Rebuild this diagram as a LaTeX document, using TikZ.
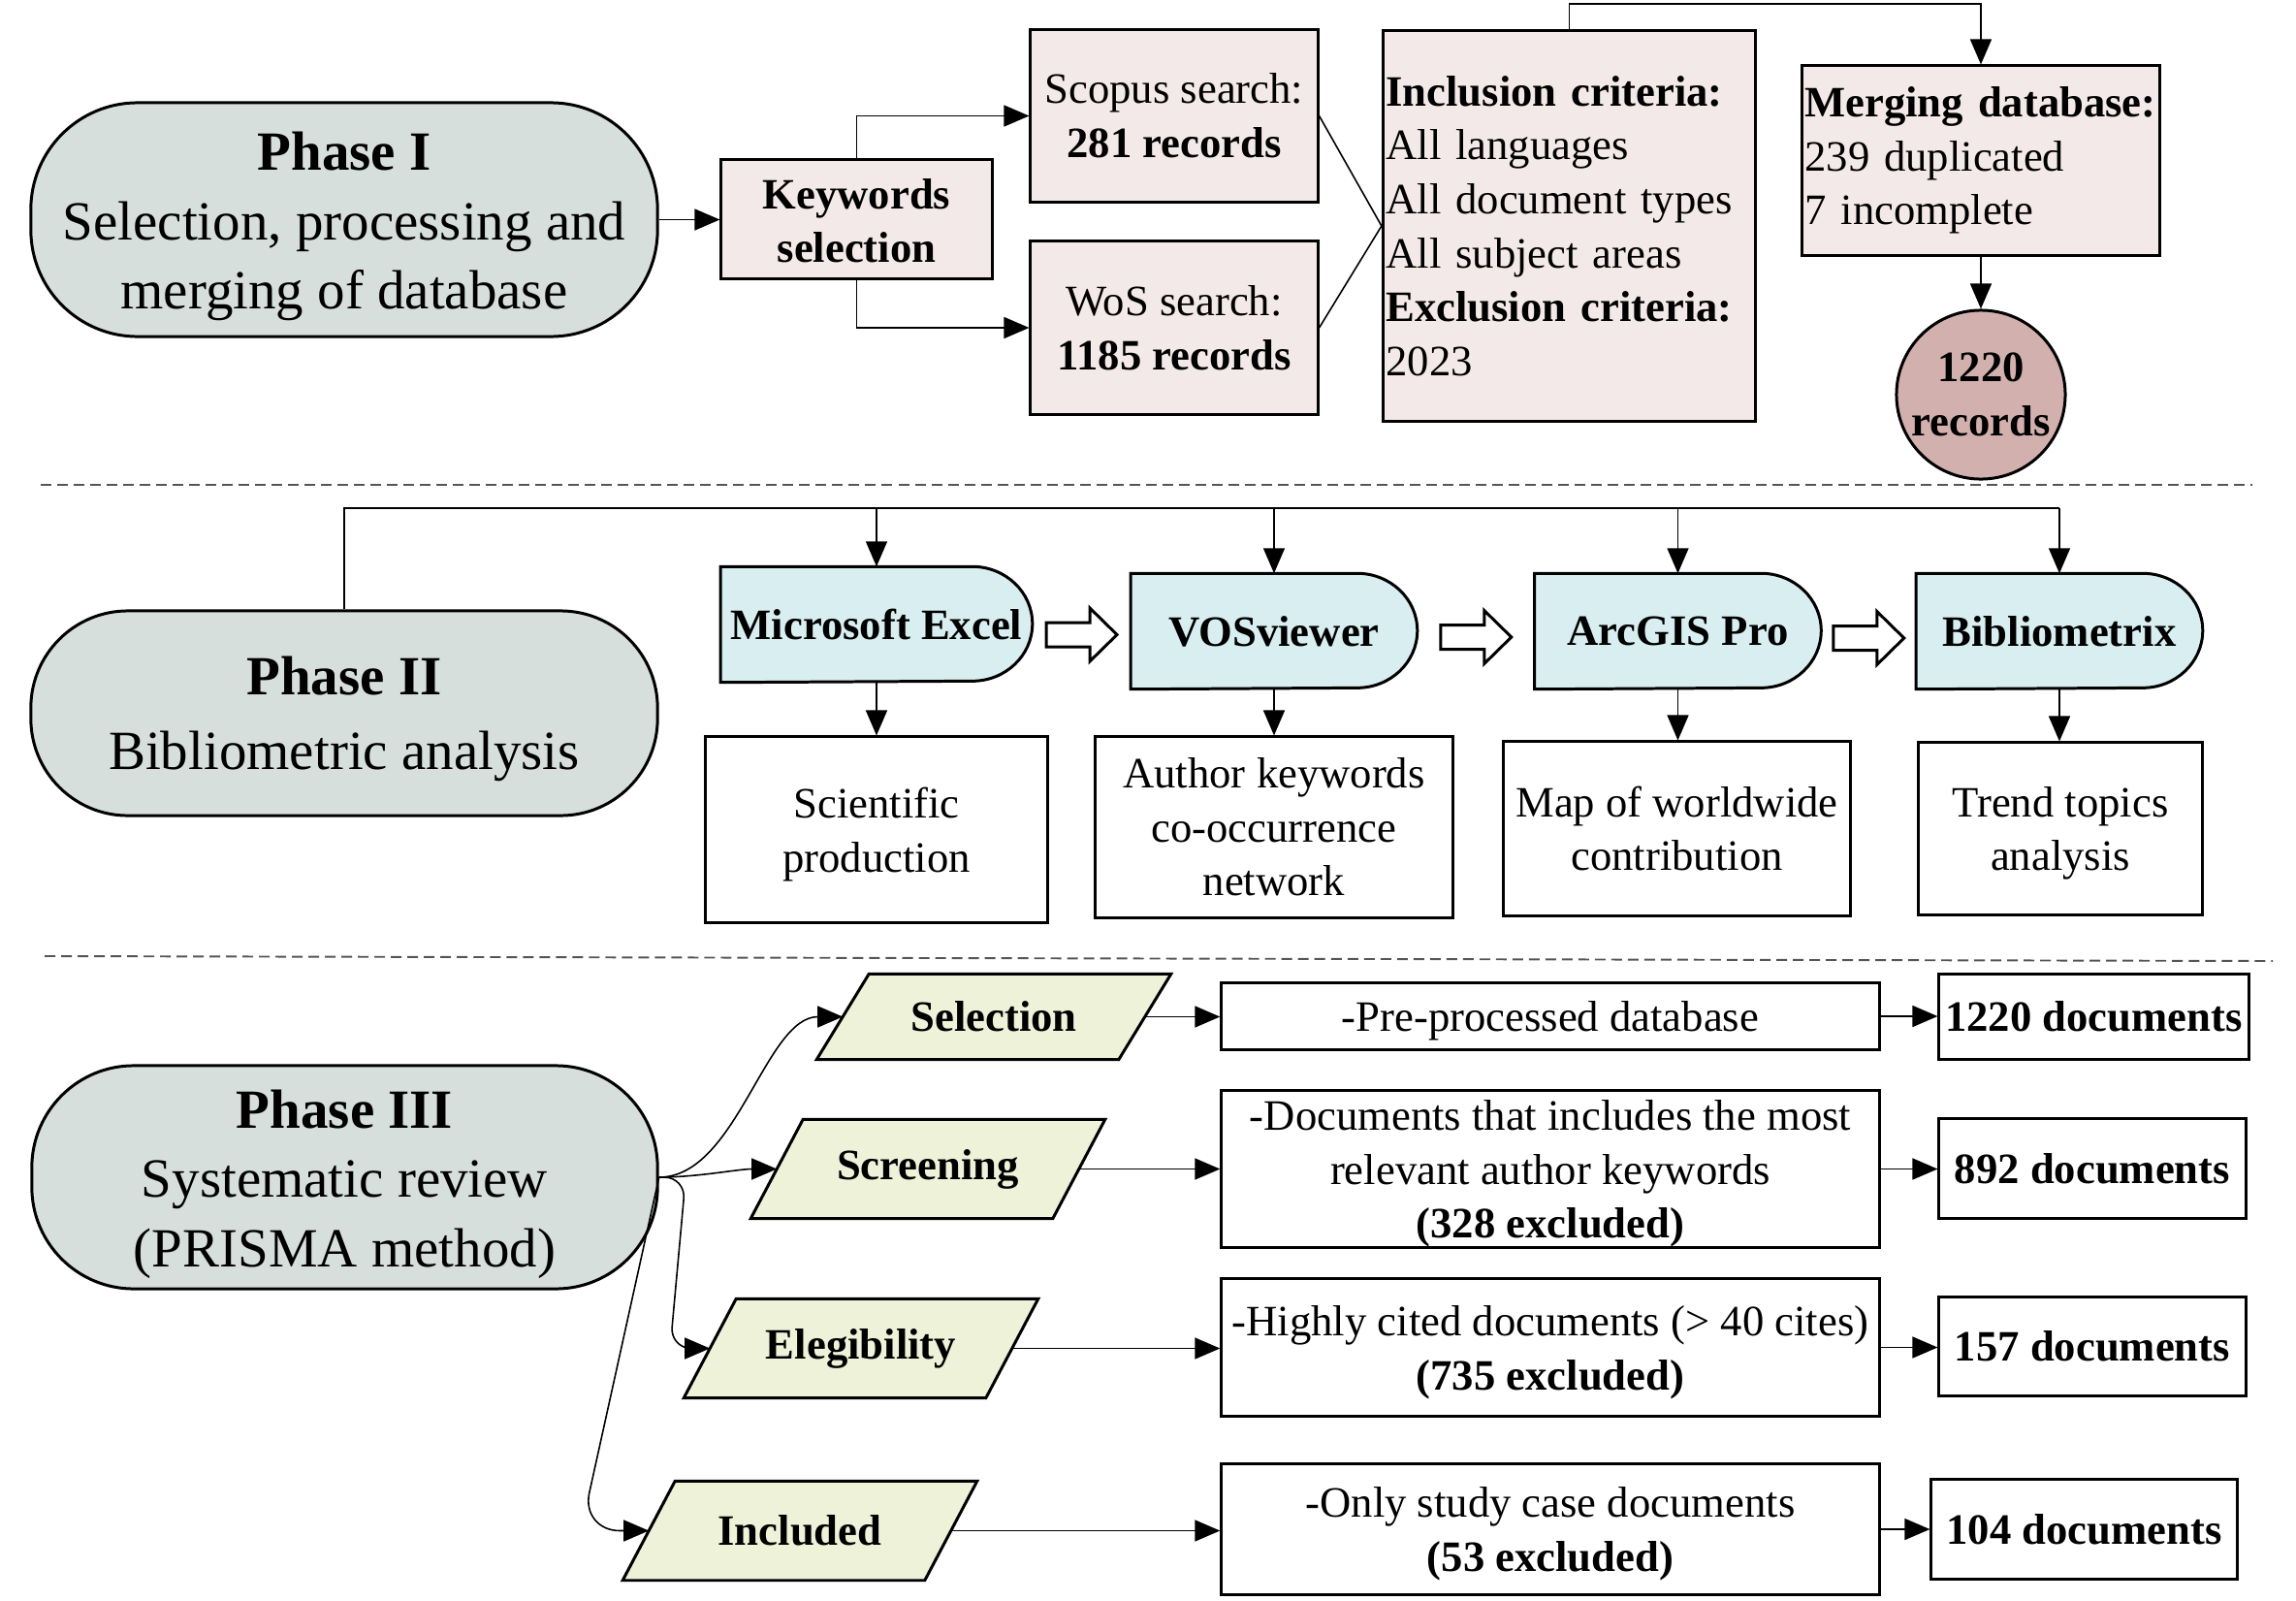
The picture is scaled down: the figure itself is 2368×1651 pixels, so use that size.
\documentclass[tikz,border=0pt]{standalone}
\usepackage{fontspec}
\setmainfont{Liberation Serif}
\usetikzlibrary{arrows.meta,calc,backgrounds}
\definecolor{phasefill}{RGB}{215,223,221}
\definecolor{pinkfill}{RGB}{244,233,233}
\definecolor{circfill}{RGB}{210,176,174}
\definecolor{toolfill}{RGB}{216,238,240}
\definecolor{parafill}{RGB}{238,242,217}
\definecolor{sepgray}{RGB}{85,85,85}
\newcommand{\phasefont}{\fontsize{16.2}{20.3}\selectfont}
\newcommand{\boxfont}{\fontsize{12.7}{15.8}\selectfont}
\newcommand{\tstrut}[1]{\rule{0pt}{#1}}
\newcommand{\blockarr}[1]{\draw[line width=0.85pt, fill=white, shift={#1}] (-36.5,-12.5) -- (8.5,-12.5) -- (8.5,-27.5) -- (36.5,0) -- (8.5,27.5) -- (8.5,12.5) -- (-36.5,12.5) -- cycle;}
\begin{document}
\begin{tikzpicture}[x=0.01cm,y=-0.01cm,
  phase/.style={draw, line width=0.85pt, fill=phasefill, font=\phasefont, align=center, inner sep=0pt},
  pbox/.style={draw, line width=0.85pt, fill=pinkfill, font=\boxfont, align=center, inner sep=0pt},
  wbox/.style={draw, line width=0.85pt, fill=white, font=\boxfont, align=center, inner sep=0pt},
  tool/.style={font=\boxfont\bfseries, align=center, inner sep=0pt, minimum width=2.94cm, minimum height=1.18cm},
  para/.style={font=\boxfont\bfseries, inner sep=0pt, minimum width=3.1cm},
  arr/.style={line width=0.45pt, -{Triangle[length=0.26cm,width=0.22cm]}},
  conn/.style={line width=0.45pt},
  sepline/.style={draw=sepgray, line width=0.55pt, dash pattern=on 0.11cm off 0.06cm}
]
\useasboundingbox (0,0) rectangle (2368,1651);

% ---------------- Phase I ----------------
\node[phase, minimum width=6.46cm, minimum height=2.41cm, rounded corners=1.1cm] (p1) at (355,226.5)
  {\tstrut{0.54cm}\textbf{Phase I}\\Selection, processing and\\merging of database};
\node[pbox, minimum width=2.79cm, minimum height=1.22cm] (kw) at (883.5,226) {\tstrut{0.34cm}\textbf{Keywords}\\\textbf{selection}};
\node[pbox, minimum width=2.96cm, minimum height=1.77cm] (sc) at (1211,119.5) {Scopus search:\\\textbf{281 records}};
\node[pbox, minimum width=2.96cm, minimum height=1.78cm] (wos) at (1211,338) {WoS search:\\\textbf{1185 records}};
\node[pbox, minimum width=3.84cm, minimum height=4.02cm, text width=3.78cm, align=left, inner xsep=0.03cm] (inc) at (1618.5,233)
  {\textbf{Inclusion criteria:}\\All languages\\All document types\\All subject areas\\\textbf{Exclusion criteria:}\\2023};
\node[pbox, minimum width=3.69cm, minimum height=1.95cm, text width=3.63cm, align=left, inner xsep=0.03cm] (mrg) at (2043,165.5)
  {\textbf{Merging database:}\\239 duplicated\\7 incomplete};
\node[circle, draw, line width=0.85pt, fill=circfill, minimum size=1.74cm, inner sep=0pt, font=\boxfont\bfseries, align=center] (rec) at (2043,407) {1220\\records};

\coordinate (top) at (0,4);
\draw[arr] (p1.east) -- (p1.east -| kw.west);
\draw[arr] (kw.north) |- (sc.west);
\draw[arr] (kw.south) |- (wos.west);
\draw[conn] (sc.east) -- (inc.west);
\draw[conn] (wos.east) -- (inc.west);
\draw[arr] (inc.north) |- (mrg.north |- top) -- (mrg.north);
\draw[arr] (mrg.south) -- (rec.north);

% separators
\coordinate (d1a) at (42,500);
\coordinate (d1b) at (2323,500);
\coordinate (d2a) at (46,986);
\coordinate (d2b) at (2344,991);
\draw[sepline] (d1a) -- (d1b);
\draw[sepline] (d2a) -- (d2b);

% ---------------- Phase II ----------------
\node[phase, minimum width=6.46cm, minimum height=2.11cm, rounded corners=1.0cm] (p2) at (355,735.5)
  {\tstrut{0.51cm}\textbf{Phase II}\\[0.06cm]Bibliometric analysis};
\node[tool, minimum width=3.2cm] (ex) at (904,644) {Microsoft Excel};
\node[tool] (vos) at (1314,651) {VOSviewer};
\node[tool] (arc) at (1730.5,651) {ArcGIS Pro};
\node[tool] (bib) at (2124,651) {Bibliometrix};

\coordinate (bus) at (0,524);
\draw[conn] (p2.north) |- (bib.north |- bus);
\draw[arr] (ex.north |- bus) -- (ex.north);
\draw[arr] (vos.north |- bus) -- (vos.north);
\draw[arr] (arc.north |- bus) -- (arc.north);
\draw[arr] (bib.north |- bus) -- (bib.north);

\blockarr{($(ex.east)!0.5!(vos.west)+(0,7)$)}
\blockarr{($(vos.east)!0.5!(arc.west)+(0,6)$)}
\blockarr{($(arc.east)!0.5!(bib.west)+(0,7)$)}

\node[wbox, minimum width=3.52cm, minimum height=1.91cm] (o1) at (904,855.5) {\tstrut{0.41cm}Scientific\\production};
\node[wbox, minimum width=3.68cm, minimum height=1.86cm] (o2) at (1314,853) {Author keywords\\co-occurrence\\network};
\node[wbox, minimum width=3.57cm, minimum height=1.79cm] (o3) at (1729.5,854.5) {Map of worldwide\\contribution};
\node[wbox, minimum width=2.92cm, minimum height=1.77cm] (o4) at (2125,854.5) {\tstrut{0.41cm}Trend topics\\analysis};
\draw[arr] (ex.south) -- (ex.south |- o1.north);
\draw[arr] (vos.south) -- (vos.south |- o2.north);
\draw[arr] (arc.south) -- (arc.south |- o3.north);
\draw[arr] (bib.south) -- (bib.south |- o4.north);

% ---------------- Phase III ----------------
\node[phase, minimum width=6.45cm, minimum height=2.30cm, rounded corners=1.05cm] (p3) at (355.5,1214)
  {\tstrut{0.54cm}\textbf{Phase III}\\Systematic review\\(PRISMA method)};
\node[para, minimum height=0.87cm] (s1) at (1025,1048.5) {Selection};
\node[para, minimum height=1.01cm] (s2) at (957,1205.5) {Screening};
\node[para, minimum height=1.01cm] (s3) at (888,1390.5) {Elegibility};
\node[para, minimum height=1.01cm] (s4) at (825,1578.5) {Included};

% D-shaped tool outlines and parallelograms, drawn behind their labels
\begin{scope}[on background layer]
\foreach \n in {ex,vos,arc,bib}{
  \filldraw[line width=0.85pt, fill=toolfill] (\n.north west) -- ([xshift=-0.62cm]\n.north east)
    arc[start angle=90, end angle=-90, x radius=0.62cm, y radius=0.59cm] -- (\n.south west) -- cycle;
}
\foreach \n in {s1,s2,s3,s4}{
  \filldraw[line width=0.85pt, fill=parafill] ([xshift=0.27cm]\n.north west) -- ([xshift=0.27cm]\n.north east)
    -- ([xshift=-0.27cm]\n.south east) -- ([xshift=-0.27cm]\n.south west) -- cycle;
}
\end{scope}

\draw[arr] (p3.east) .. controls +(80,0) and +(-80,0) .. (s1.west);
\draw[arr] (p3.east) .. controls +(40,0) and +(-40,0) .. (s2.west);
\draw[arr, rounded corners=0.22cm] (p3.east) -- ([xshift=-0.25cm]s3.west |- p3.east) -- ([xshift=-0.41cm]s3.west) -- (s3.west);
\draw[arr, rounded corners=0.4cm] (p3.east) -- ([xshift=-0.7cm]s4.west) -- (s4.west);

\node[wbox, minimum width=6.78cm, minimum height=0.68cm] (m1) at (1599,1048) {\tstrut{0.41cm}-Pre-processed database};
\node[wbox, minimum width=6.78cm, minimum height=1.61cm] (m2) at (1599,1205.5) {\tstrut{0.41cm}-Documents that includes the most\\relevant author keywords\\\textbf{(328 excluded)}};
\node[wbox, minimum width=6.78cm, minimum height=1.41cm] (m3) at (1599,1389.5) {\tstrut{0.41cm}-Highly cited documents (> 40 cites)\\\textbf{(735 excluded)}};
\node[wbox, minimum width=6.78cm, minimum height=1.34cm] (m4) at (1599,1577) {\tstrut{0.41cm}-Only study case documents\\\textbf{(53 excluded)}};

\node[wbox, font=\boxfont\bfseries, minimum width=3.19cm, minimum height=0.87cm] (r1) at (2159.5,1048.5) {1220 documents};
\node[wbox, font=\boxfont\bfseries, minimum width=3.16cm, minimum height=1.02cm] (r2) at (2158,1205) {892 documents};
\node[wbox, font=\boxfont\bfseries, minimum width=3.16cm, minimum height=1.01cm] (r3) at (2158,1388.5) {157 documents};
\node[wbox, font=\boxfont\bfseries, minimum width=3.15cm, minimum height=1.02cm] (r4) at (2149.5,1577) {104 documents};

\draw[arr] (s1.east) -- (s1.east -| m1.west);
\draw[arr] (s2.east) -- (s2.east -| m2.west);
\draw[arr] (s3.east) -- (s3.east -| m3.west);
\draw[arr] (s4.east) -- (s4.east -| m4.west);
\draw[arr] (m1.east) -- (m1.east -| r1.west);
\draw[arr] (m2.east) -- (m2.east -| r2.west);
\draw[arr] (m3.east) -- (m3.east -| r3.west);
\draw[arr] (m4.east) -- (m4.east -| r4.west);
\end{tikzpicture}
\end{document}
